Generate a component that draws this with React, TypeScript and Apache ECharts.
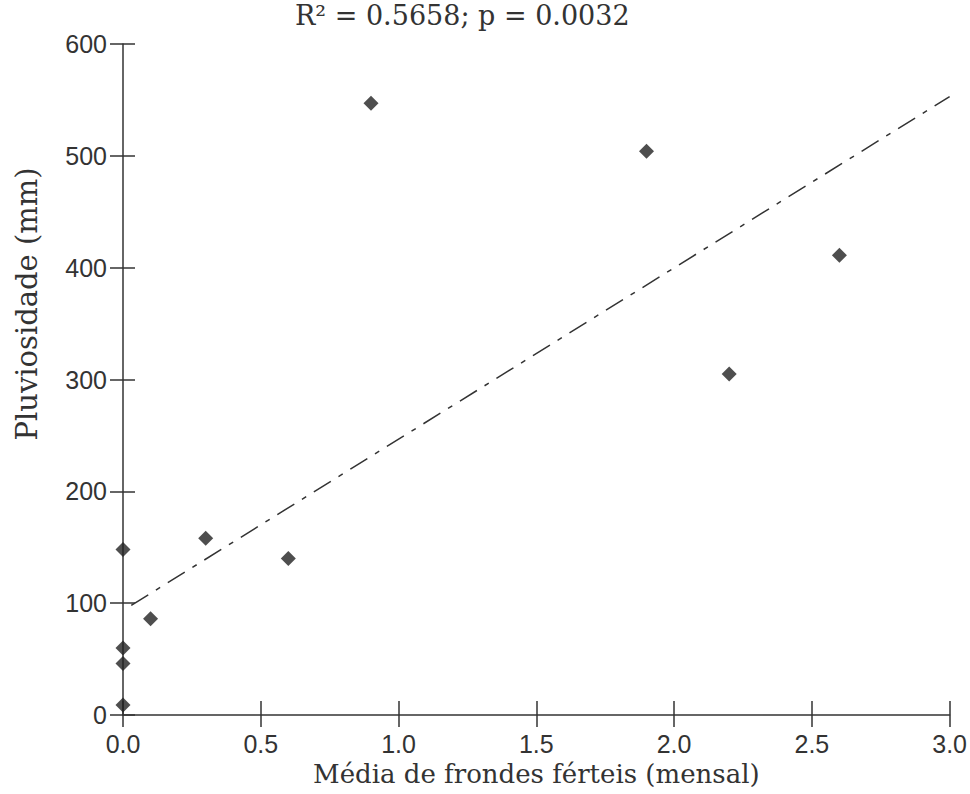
import React, { useEffect, useRef } from "react";
import * as echarts from "echarts";

const xVals = [0, 0, 0, 0, 0.1, 0.3, 0.6, 0.9, 1.9, 2.2, 2.6];
const yVals = [148, 60, 46, 9, 86, 158, 140, 547, 504, 305, 411];
const regX = [0.03, 3.0];
const regY = [98, 553];
const xTicks = [0, 0.5, 1.0, 1.5, 2.0, 2.5, 3.0];
const yTicks = [0, 100, 200, 300, 400, 500, 600];
const titleText = "R² = 0.5658; p = 0.0032";
const xName = "Média de frondes férteis (mensal)";
const yName = "Pluviosidade (mm)";

export default function App() {
  const ref = useRef<HTMLDivElement>(null);
  useEffect(() => {
    document.body.style.margin = "0";
    const chart = echarts.init(ref.current!, null, { renderer: "svg" });
    const ink = "#333";
    const serif = "DejaVu Serif";
    const sans = "Liberation Sans";
    const xMin = xTicks[0];
    const xMax = xTicks[xTicks.length - 1];
    const yMin = yTicks[0];
    const yMax = yTicks[yTicks.length - 1];
    chart.setOption({
      animation: false,
      backgroundColor: "#fff",
      title: {
        text: titleText,
        left: 295,
        top: 2,
        padding: 0,
        textStyle: { fontFamily: serif, fontSize: 27, fontWeight: "normal", color: ink },
      },
      graphic: [
        {
          type: "text",
          x: 27,
          y: 304,
          rotation: Math.PI / 2,
          style: {
            text: yName,
            fontFamily: serif,
            fontSize: 29,
            fill: ink,
            textAlign: "center",
            textVerticalAlign: "middle",
          },
        },
      ],
      grid: { left: 123, right: 16, top: 44, bottom: 79, containLabel: false },
      xAxis: [
        {
          type: "value",
          min: xMin,
          max: xMax,
          interval: 0.5,
          axisLine: { show: true, onZero: false, lineStyle: { color: ink, width: 1.5 } },
          axisTick: { show: true, length: 12, lineStyle: { color: ink, width: 1.5 } },
          axisLabel: {
            formatter: (v: number) => v.toFixed(1),
            fontFamily: sans,
            fontSize: 25,
            color: ink,
            margin: 16,
          },
          splitLine: { show: false },
          name: xName,
          nameLocation: "middle",
          nameGap: 41,
          nameTextStyle: { fontFamily: serif, fontSize: 26, color: ink },
        },
        {
          type: "value",
          min: xMin,
          max: xMax,
          interval: 0.5,
          position: "bottom",
          axisLine: { show: false },
          axisTick: { show: true, inside: true, length: 14, lineStyle: { color: ink, width: 1.5 } },
          axisLabel: { show: false },
          splitLine: { show: false },
        },
      ],
      yAxis: [
        {
          type: "value",
          min: yMin,
          max: yMax,
          interval: 100,
          axisLine: { show: true, onZero: false, lineStyle: { color: ink, width: 1.5 } },
          axisTick: { show: true, length: 13, lineStyle: { color: ink, width: 1.5 } },
          axisLabel: { fontFamily: sans, fontSize: 25, color: ink, margin: 16 },
          splitLine: { show: false },
        },
        {
          type: "value",
          min: yMin,
          max: yMax,
          interval: 100,
          position: "left",
          axisLine: { show: false },
          axisTick: { show: true, inside: true, length: 12, lineStyle: { color: ink, width: 1.5 } },
          axisLabel: { show: false },
          splitLine: { show: false },
        },
      ],
      series: [
        {
          type: "line",
          xAxisIndex: 0,
          yAxisIndex: 0,
          data: regX.map((x, i) => [x, regY[i]]),
          symbol: "none",
          lineStyle: { color: ink, width: 1.5, type: [20, 9, 5, 9] },
          z: 1,
        },
        {
          type: "scatter",
          xAxisIndex: 0,
          yAxisIndex: 0,
          data: xVals.map((x, i) => [x, yVals[i]]),
          symbol: "diamond",
          symbolSize: [15, 15],
          itemStyle: { color: "#222" },
          clip: false,
          z: 3,
        },
      ],
    });
    return () => chart.dispose();
  }, []);
  return <div ref={ref} style={{ width: 970, height: 794 }} />;
}
